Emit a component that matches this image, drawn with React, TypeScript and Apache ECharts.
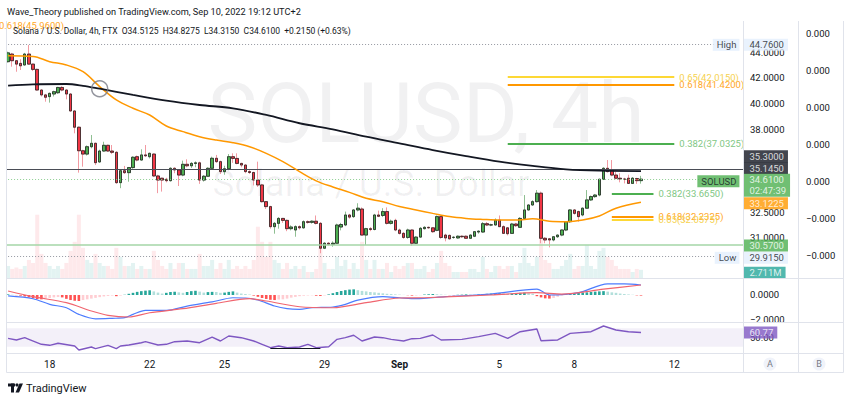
import React, { useEffect, useRef } from 'react';
import * as echarts from 'echarts';

// ---------------- data ----------------
// 4h candles, Aug 16 08:00 .. Sep 10 16:00 : [open, high, low, close]
const ohlc: [number, number, number, number][] = [
  [43.27,44.1,43.2,44.0],[43.9,44.0,42.86,43.35],[43.35,43.4,42.45,43.07],[43.13,43.47,42.59,42.93],[43.0,44.0,42.95,43.9],
  [43.9,44.67,43.0,43.07],[43.07,43.1,42.5,42.64],[42.64,42.7,40.95,41.0],[41.0,41.05,40.5,40.62],[40.62,40.7,40.1,40.44],
  [40.49,40.8,40.03,40.74],[40.69,40.95,40.5,40.87],[40.79,41.25,40.7,41.2],[41.2,41.3,40.9,41.0],[41.0,41.05,40.28,40.69],
  [40.69,40.75,39.35,39.4],[39.4,39.45,37.76,38.2],[38.2,38.25,35.04,36.53],[36.53,36.6,35.44,36.3],[36.3,36.9,36.2,36.81],
  [36.81,37.64,36.7,37.05],[37.05,37.1,35.55,35.71],[35.76,36.6,35.7,36.51],[36.51,37.16,36.45,36.91],[36.91,36.95,36.45,36.51],
  [36.51,36.93,36.3,36.42],[36.42,36.5,34.3,34.38],[34.38,35.25,34.02,35.17],[35.17,35.49,34.95,35.04],[35.04,35.42,34.44,35.38],
  [35.38,36.15,35.3,36.08],[36.12,36.2,35.8,35.89],[35.89,36.63,35.85,36.24],[36.24,36.93,36.1,36.18],[36.12,36.4,36.0,36.35],
  [36.3,36.35,34.75,34.82],[34.82,34.9,33.7,34.55],[34.67,34.7,33.8,34.55],[34.6,34.7,34.4,34.51],[34.51,35.4,34.45,35.33],
  [35.33,35.4,35.0,35.22],[35.22,35.25,34.16,34.88],[34.88,35.85,34.8,35.6],[35.6,35.94,35.4,35.5],[35.5,35.75,35.35,35.66],
  [35.66,35.8,35.4,35.7],[35.7,35.78,34.3,34.55],[34.55,34.88,34.45,34.8],[34.8,35.4,34.75,35.33],[35.33,36.12,35.3,36.01],
  [36.01,36.24,35.7,35.78],[35.78,35.85,34.95,35.11],[35.11,35.5,34.9,35.3],[35.3,36.3,35.2,36.12],[36.12,36.35,35.7,36.0],
  [36.0,36.35,35.6,35.66],[35.66,35.7,35.4,35.55],[35.55,35.6,35.0,35.11],[35.11,35.2,34.95,35.05],[35.05,35.1,34.2,34.55],
  [34.55,35.78,34.1,34.23],[34.23,34.3,33.1,33.16],[33.16,33.2,32.7,32.85],[32.85,32.9,31.5,31.62],[31.62,31.9,31.2,31.82],
  [31.82,32.2,31.5,32.12],[32.12,32.15,31.85,32.0],[32.0,32.05,31.35,31.5],[31.5,31.7,31.4,31.6],[31.42,31.7,31.02,31.62],
  [31.62,31.7,31.45,31.55],[31.55,32.0,31.5,31.92],[31.92,32.0,31.8,31.88],[31.88,32.0,31.8,31.95],[31.95,32.3,31.75,31.82],
  [31.82,31.9,30.06,30.35],[30.35,30.7,30.3,30.64],[30.64,30.7,30.5,30.58],[30.58,30.75,30.44,30.64],[30.64,31.8,30.6,31.72],
  [31.6,31.85,31.4,31.75],[31.72,32.54,31.65,32.33],[32.33,32.4,32.1,32.2],[32.23,32.7,32.15,32.64],[32.64,33.06,32.55,32.75],
  [32.7,32.8,31.1,31.12],[31.12,31.55,30.54,31.5],[31.5,31.6,31.35,31.45],[31.45,32.4,31.4,32.33],[32.33,32.6,32.2,32.25],
  [32.3,32.75,32.2,32.54],[32.54,32.8,31.75,31.82],[31.82,32.05,31.75,31.95],[32.0,32.1,31.35,31.42],[31.42,31.5,31.15,31.22],
  [31.22,31.3,30.9,30.98],[30.98,31.5,30.9,31.42],[31.42,31.45,30.5,30.64],[30.64,31.05,30.6,31.0],[31.0,31.6,30.95,31.52],
  [31.5,31.65,31.45,31.58],[31.58,31.62,31.5,31.55],[31.55,31.6,31.25,31.32],[31.4,32.3,31.35,32.23],[32.23,32.3,30.9,30.98],
  [31.12,31.2,30.75,30.95],[31.1,31.15,30.85,30.9],[30.98,31.05,30.9,30.99],[30.95,31.1,30.9,31.05],[31.05,31.1,30.95,31.02],
  [31.05,31.1,30.9,30.93],[30.93,31.15,30.9,31.12],[31.05,31.35,31.0,31.32],[31.3,31.4,31.2,31.35],[31.3,31.9,31.25,31.8],
  [31.8,31.9,31.65,31.72],[31.72,31.8,31.65,31.73],[31.72,32.12,31.7,32.02],[32.02,32.3,31.6,31.62],[31.62,31.7,31.2,31.22],
  [31.55,31.6,31.1,31.2],[31.22,31.85,31.2,31.78],[31.78,31.85,31.6,31.68],[31.58,32.2,31.55,32.12],[32.12,33.58,32.05,32.64],
  [32.64,33.0,32.6,32.95],[32.95,33.25,32.9,33.16],[33.16,33.9,33.1,33.7],[33.7,33.8,30.64,30.93],[30.93,31.0,30.64,30.83],
  [30.9,30.95,30.4,30.83],[30.83,31.05,30.75,31.02],[31.02,31.15,30.95,31.12],[31.12,31.45,31.05,31.42],[31.42,31.95,31.35,31.92],
  [31.92,32.7,31.85,32.64],[32.64,32.7,32.35,32.43],[32.54,32.6,31.92,32.23],[32.33,32.8,32.25,32.75],[32.75,33.9,32.7,33.27],
  [33.27,33.55,33.2,33.48],[33.48,33.65,33.4,33.58],[33.58,34.65,33.5,34.6],[34.6,35.4,34.55,35.33],[35.33,35.89,35.05,35.11],
  [35.22,35.89,34.8,34.88],[34.88,35.1,34.6,34.67],[34.67,35.0,34.4,34.62],[34.62,34.7,34.33,34.6],[34.67,34.9,34.3,34.33],
  [34.33,34.75,34.3,34.67],[34.65,34.7,34.3,34.51],[34.5125,34.8275,34.315,34.61],
];

// volume in millions
const volumeM: number[] = [
  4,3,3.5,3,4,6,5,21,8,5, 4,3,4,3,5,9,12,21,10,6, 5,8,5,4,4,3,10,7,4,4, 5,3,4,3,3,9,6,4,3,5,
  3,5,5,3,3,3,8,4,4,6, 3,5,3,6,3,4,3,4,3,6, 17,12,7,12,6,5,3,5,3,4, 3,4,2,2,3,10,5,3,3,7,
  4,6,3,5,3,12,6,3,6,3, 3,5,2,4,3,4,5,5,3,3, 4,2,3,5,9,5,4,2,2,2, 2,3,3,2,7,3,2,4,4,3,
  4,4,2,5,10,5,4,7,14,6, 5,3,3,4,6,8,3,4,4,11, 4,3,9,10,7,6,4,3,3,3, 2,3,2.711,
];

// MACD histogram per candle
const macdHist: number[] = [
  0.05,0.02,-0.02,-0.06,-0.12,-0.2,-0.28,-0.34,-0.36,-0.3,
  -0.25,-0.2,-0.17,-0.2,-0.32,-0.42,-0.48,-0.5,-0.42,-0.36,
  -0.3,-0.24,-0.18,-0.12,-0.08,-0.05,-0.1,-0.05,0.02,0.1,
  0.18,0.26,0.32,0.36,0.39,0.3,0.2,0.12,0.18,0.25,
  0.27,0.22,0.18,0.25,0.32,0.35,0.28,0.2,0.24,0.26,
  0.25,0.18,0.2,0.26,0.3,0.2,0.12,0.08,0.04,-0.05,
  -0.15,-0.25,-0.33,-0.4,-0.42,-0.38,-0.36,-0.3,-0.22,-0.16,
  -0.1,-0.06,-0.04,-0.03,-0.06,-0.08,-0.04,0.05,0.15,0.25,
  0.33,0.4,0.45,0.47,0.4,0.34,0.3,0.25,0.22,0.18,
  0.14,0.1,0.08,0.05,0.03,0.01,-0.02,-0.05,-0.04,-0.02,
  0.04,0.06,0.08,0.06,0.04,0.02,-0.02,-0.03,0.02,0.03,
  0.05,0.04,0.03,0.05,0.08,0.1,0.12,0.14,0.15,0.13,
  0.1,0.12,0.15,0.18,0.2,0.15,0.1,-0.1,-0.2,-0.28,
  -0.3,-0.25,-0.15,-0.05,0.05,0.1,0.15,0.18,0.2,0.22,
  0.25,0.28,0.3,0.32,0.28,0.22,0.18,0.12,0.08,0.05,
  0.02,-0.03,-0.05,
];

// moving averages read at points: [candle index, price]
const ma200Pts: [number, number][] = [
  [0,41.35],[6,41.45],[14,41.47],[18,41.33],[22,41.1],[30,40.62],[38,40.18],[46,39.85],[54,39.6],[62,39.1],
  [70,38.49],[78,38.05],[86,37.52],[94,37.05],[102,36.58],[110,36.16],[118,35.78],[126,35.49],[134,35.26],[142,35.17],[152,35.145],
];
const ma50Pts: [number, number][] = [
  [0,43.75],[6,43.7],[10,43.27],[14,43.0],[18,42.45],[22,41.27],[26,40.23],[30,39.6],[34,39.1],[38,38.29],
  [42,37.88],[46,37.52],[50,37.28],[54,37.09],[58,36.81],[62,36.35],[66,35.78],[70,35.11],[74,34.5],[78,34.1],
  [82,33.75],[86,33.37],[90,33.16],[94,32.85],[98,32.64],[102,32.43],[106,32.23],[110,32.12],[114,32.06],[118,32.02],
  [122,32.02],[126,32.1],[130,31.95],[134,31.92],[138,32.02],[142,32.27],[146,32.75],[152,33.1225],
];
const macdPts: [number, number][] = [
  [0,-0.08],[6,-0.31],[10,-0.78],[14,-1.06],[17,-1.61],[21,-1.98],[25,-1.94],[28,-1.89],[30,-1.61],[33,-1.28],
  [38,-1.28],[43,-0.92],[49,-0.58],[54,-0.23],[57,-0.25],[60,-0.42],[64,-0.92],[67,-1.14],[70,-1.19],[73,-1.06],
  [78,-1.0],[81,-0.78],[84,-0.42],[90,-0.14],[94,-0.23],[98,-0.31],[105,-0.14],[116,0.08],[127,0.48],[130,0.0],
  [137,0.19],[144,0.92],[148,0.92],[152,0.83],
];
const signalPts: [number, number][] = [
  [0,0.33],[6,-0.14],[14,-0.64],[20,-1.33],[24,-1.69],[29,-1.83],[34,-1.48],[42,-1.14],[50,-0.69],[58,-0.31],
  [62,-0.5],[70,-0.98],[78,-1.06],[86,-0.64],[94,-0.25],[100,-0.23],[116,0.0],[127,0.19],[133,0.08],[143,0.48],[152,0.83],
];
const rsiPts: [number, number][] = [
  [0,48.2],[2,44.6],[4,49.6],[5,46],[8,35.2],[10,33],[12,37.4],[16,31.5],[17,22.8],[20,29.3],
  [21,25.7],[24,33],[26,25.7],[27,31.5],[29,33.7],[32,38.7],[33,40.9],[36,33.7],[38,35.2],[40,40.9],
  [43,42.4],[46,38.7],[49,51],[51,42.4],[53,53.3],[56,49.6],[59,42.4],[61,35.2],[63,27.8],[65,31.5],
  [67,27.8],[70,29.3],[72,35.2],[74,27.8],[77,30],[79,46],[81,49.6],[83,54.8],[85,42.4],[88,51],
  [90,49.6],[92,46],[95,42.4],[97,47.4],[99,48.2],[102,55.4],[104,44.6],[109,46],[113,51.8],[117,59],
  [120,48.2],[123,62.6],[127,68.5],[128,43],[132,44.6],[135,59],[140,62.6],[143,75],[146,66.3],[149,62.6],[152,60.77],
];
const rsiSupport: [number, number][] = [[63, 26.5], [75, 26.5]];

// axis ticks
const CATEGORY_COUNT = 177;
const categories: string[] = Array.from({ length: CATEGORY_COUNT }, (_, i) => `c${i}`);
const dayTickIndex = [10, 34, 52, 76, 94, 118, 136, 160];
const dayTickLabels = ['18', '22', '25', '29', 'Sep', '5', '8', '12'];
const priceTicks = [31, 32.5, 38, 40, 42, 44];
const scaleBTicks = [-2e-4, -1e-4, 0, 1e-4, 2e-4, 3e-4, 4e-4];
const macdTicks = [-2, 0];
const rsiTicks = [50];

// levels
const HIGH_PRICE = 44.76;
const LOW_PRICE = 29.915;
const RES_LEVEL = 35.3;
const SUP_LEVEL = 30.57;
const LAST_CLOSE = 34.61;
const MA200_LAST = 35.145;
const MA50_LAST = 33.1225;
const VOL_LAST = 2.711;
const RSI_LAST = 60.77;
const COUNTDOWN = '02:47:39';
const crossPoint: [number, number] = [22, 41.1];
const fibUpperLevels = [42.015, 41.42, 37.0325];
const fibUpperNames = ['0.65', '0.618', '0.382'];
const fibLowerLevels = [33.665, 32.2325, 32.0575];
const fibLowerNames = ['0.382', '0.618', '0.65'];

// ---------------- styling ----------------
const FONT = 'Roboto, "Noto Sans", "DejaVu Sans", sans-serif';
const TXT = '#131722';
const GREEN = '#4caf50';
const RED = '#f23645';
const ORANGE = '#ff9800';
const YELLOW = '#fdd835';
const TAG_BLUE = '#e3effd';
const SEP = '#e0e3eb';
const FS = 9.5;
const fibColor: Record<string, string> = { '0.65': YELLOW, '0.618': ORANGE, '0.382': GREEN };
const fibLabelColor: Record<string, string> = { '0.65': '#f6d250', '0.618': '#ffa726', '0.382': '#81c784' };

const fmt4 = (v: number) => v.toFixed(4);

export default function App() {
  const ref = useRef<HTMLDivElement>(null);

  useEffect(() => {
    if (!ref.current) return;
    const chart = echarts.init(ref.current, undefined, { renderer: 'svg' });
    const LAST = CATEGORY_COUNT - 1;

    const tag = (x: number, y: number, text: string, bg: string, fg: string, pos: 'left' | 'right', dy: number) => ({
      value: [x, y],
      label: {
        show: true,
        position: pos,
        distance: pos === 'right' ? 2 : 1,
        offset: [0, dy],
        formatter: text,
        backgroundColor: bg,
        color: fg,
        fontSize: FS,
        lineHeight: 11,
        fontFamily: FONT,
        padding: pos === 'right' ? [1, 4, 0, 6] : [1, 3, 0, 4],
      },
    });

    const histColor = (i: number) => {
      const v = macdHist[i];
      const p = i > 0 ? macdHist[i - 1] : 0;
      if (v >= 0) return v >= p ? '#26a69a' : '#b2dfdb';
      return v <= p ? '#ff5252' : '#ffcdd2';
    };

    const fibLine = (level: number, name: string, from: number, to: number, padBottom: number) => [
      {
        coord: [from, level],
        lineStyle: { color: fibColor[name], width: 2, type: 'solid' },
        label: {
          show: true,
          position: 'end',
          distance: 5,
          formatter: `${name}(${level.toFixed(4)})`,
          color: fibLabelColor[name],
          fontSize: FS,
          fontFamily: FONT,
          padding: [0, 0, padBottom, 0],
        },
      },
      { coord: [to, level] },
    ];

    const dotted = (level: number, to: number, color: string) => [
      { coord: [0, level], lineStyle: { color, width: 1, type: [1, 2] }, label: { show: false } },
      { coord: [to, level] },
    ];

    const xBase = {
      type: 'category',
      data: categories,
      boundaryGap: true,
      axisLine: { show: false },
      axisTick: { show: false },
      splitLine: { show: false },
      axisLabel: { show: false },
    };
    const yLabel = { color: TXT, fontSize: FS, fontFamily: FONT, margin: 7, showMinLabel: true, showMaxLabel: true };

    const option: any = {
      animation: false,
      backgroundColor: '#ffffff',
      grid: [
        { left: 6, top: 22, width: 737, height: 256 },
        { left: 6, top: 279, width: 737, height: 44 },
        { left: 6, top: 323, width: 737, height: 31 },
      ],
      xAxis: [
        { ...xBase, gridIndex: 0 },
        { ...xBase, gridIndex: 1 },
        {
          ...xBase,
          gridIndex: 2,
          axisLabel: {
            show: true,
            interval: (i: number) => dayTickIndex.includes(i),
            formatter: (_v: string, i: number) => {
              const k = dayTickIndex.indexOf(i);
              if (k < 0) return '';
              const t = dayTickLabels[k];
              return t === 'Sep' ? '{b|Sep}' : t;
            },
            color: TXT,
            fontSize: 10,
            fontFamily: FONT,
            margin: 5,
            rich: { b: { fontWeight: 'bold', fontSize: 10, color: TXT, fontFamily: FONT } },
          },
        },
      ],
      yAxis: [
        {
          type: 'log', logBase: 10, gridIndex: 0, position: 'right', min: 28.68, max: 46.66,
          axisLine: { show: false }, axisTick: { show: false }, splitLine: { show: false },
          axisLabel: { ...yLabel, customValues: priceTicks, formatter: (v: number) => fmt4(v) },
        },
        { type: 'value', gridIndex: 0, min: 0, max: 85, show: false },
        {
          type: 'value', gridIndex: 0, position: 'right', offset: 55, min: -2.595e-4, max: 4.324e-4,
          axisLine: { show: false }, axisTick: { show: false }, splitLine: { show: false },
          axisLabel: { ...yLabel, margin: 8, customValues: scaleBTicks, formatter: (v: number) => (v < -1e-9 ? '\u22120.000' : '0.000') },
        },
        {
          type: 'value', gridIndex: 1, position: 'right', min: -2.33, max: 1.33,
          axisLine: { show: false }, axisTick: { show: false }, splitLine: { show: false },
          axisLabel: { ...yLabel, customValues: macdTicks, formatter: (v: number) => (v < 0 ? '\u2212' : '') + Math.abs(v).toFixed(4) },
        },
        {
          type: 'value', gridIndex: 2, position: 'right', min: 14.13, max: 81.52,
          axisLine: { show: false }, axisTick: { show: false }, splitLine: { show: false },
          axisLabel: { ...yLabel, customValues: rsiTicks, formatter: (v: number) => v.toFixed(2) },
        },
      ],
      series: [
        {
          type: 'bar', name: 'Volume', xAxisIndex: 0, yAxisIndex: 1, silent: true, barWidth: 4, z: 1,
          data: volumeM.map((v, i) => ({
            value: v,
            itemStyle: { color: ohlc[i][3] >= ohlc[i][0] ? 'rgba(38,166,154,0.13)' : 'rgba(242,54,69,0.11)' },
          })),
        },
        {
          type: 'candlestick', name: 'wicks', xAxisIndex: 0, yAxisIndex: 0, barWidth: 3, z: 3, silent: true,
          data: ohlc.map(([o, h, l, c]) => [o, c, l, h]),
          itemStyle: { color: GREEN, color0: RED, borderColor: '#8fbf92', borderColor0: '#f29aa2', borderWidth: 1 },
        },
        {
          type: 'candlestick', name: 'bodies', xAxisIndex: 0, yAxisIndex: 0, barWidth: 3, z: 4, silent: true,
          data: ohlc.map(([o, , , c]) => [o, c, Math.min(o, c), Math.max(o, c)]),
          itemStyle: { color: GREEN, color0: RED, borderColor: '#262626', borderColor0: '#262626', borderWidth: 0.8 },
        },
        {
          type: 'line', name: 'MA50', xAxisIndex: 0, yAxisIndex: 0, data: ma50Pts, smooth: 0.35, symbol: 'none', z: 5,
          lineStyle: { color: ORANGE, width: 1.5 },
        },
        {
          type: 'line', name: 'MA200', xAxisIndex: 0, yAxisIndex: 0, data: ma200Pts, smooth: 0.35, symbol: 'none', z: 5,
          lineStyle: { color: TXT, width: 1.8 },
          markLine: {
            silent: true,
            symbol: ['none', 'none'],
            animation: false,
            data: [
              { yAxis: RES_LEVEL, lineStyle: { color: '#4a4d56', width: 1, type: 'solid' }, label: { show: false } },
              { yAxis: SUP_LEVEL, lineStyle: { color: '#a5d6a7', width: 1.5, type: 'solid' }, label: { show: false } },
              dotted(HIGH_PRICE, 170, '#9598a1'),
              dotted(LOW_PRICE, 170, '#9598a1'),
              dotted(LAST_CLOSE, 166, '#8fd093'),
              fibLine(fibUpperLevels[0], fibUpperNames[0], 120, 160, 14),
              fibLine(fibUpperLevels[1], fibUpperNames[1], 120, 160, 13),
              fibLine(fibUpperLevels[2], fibUpperNames[2], 120, 160, 13),
              fibLine(fibLowerLevels[0], fibLowerNames[0], 145, 155, 12),
              fibLine(fibLowerLevels[1], fibLowerNames[1], 145, 155, 5),
              fibLine(fibLowerLevels[2], fibLowerNames[2], 145, 155, 0),
            ],
          },
        },
        {
          type: 'scatter', name: 'cross', xAxisIndex: 0, yAxisIndex: 0, data: [crossPoint], symbol: 'circle', symbolSize: 16, z: 6,
          itemStyle: { color: 'rgba(255,255,255,0)', borderColor: '#787b86', borderWidth: 1.5 }, silent: true,
        },
        {
          type: 'scatter', name: 'priceTags', xAxisIndex: 0, yAxisIndex: 0, symbolSize: 1, z: 20, silent: true,
          itemStyle: { color: 'rgba(0,0,0,0)' },
          data: [
            tag(LAST, HIGH_PRICE, 'High', TAG_BLUE, TXT, 'left', 1),
            tag(LAST, HIGH_PRICE, fmt4(HIGH_PRICE), TAG_BLUE, TXT, 'right', 1),
            tag(LAST, LOW_PRICE, 'Low', TAG_BLUE, TXT, 'left', 2),
            tag(LAST, LOW_PRICE, fmt4(LOW_PRICE), TAG_BLUE, TXT, 'right', 2),
            tag(LAST, SUP_LEVEL, fmt4(SUP_LEVEL), GREEN, '#ffffff', 'right', 1),
            tag(LAST, MA50_LAST, fmt4(MA50_LAST), ORANGE, '#ffffff', 'right', 1),
            tag(LAST, RES_LEVEL, fmt4(RES_LEVEL), TXT, '#ffffff', 'right', -12.5),
            tag(LAST, MA200_LAST, fmt4(MA200_LAST), TXT, '#ffffff', 'right', -3),
            tag(LAST, LAST_CLOSE, 'SOLUSD', GREEN, TXT, 'left', 2),
            tag(LAST, LAST_CLOSE, `${fmt4(LAST_CLOSE)}\n${COUNTDOWN}`, GREEN, '#ffffff', 'right', 6),
          ],
        },
        {
          type: 'scatter', name: 'volTag', xAxisIndex: 0, yAxisIndex: 1, symbolSize: 1, z: 20, silent: true,
          itemStyle: { color: 'rgba(0,0,0,0)' },
          data: [tag(LAST, VOL_LAST, `${VOL_LAST.toFixed(3)}M`, '#26a69a', '#ffffff', 'right', 3)],
        },
        {
          type: 'bar', name: 'Histogram', xAxisIndex: 1, yAxisIndex: 3, barWidth: 2.6, silent: true,
          data: macdHist.map((v, i) => ({ value: v, itemStyle: { color: histColor(i) } })),
        },
        {
          type: 'line', name: 'MACD', xAxisIndex: 1, yAxisIndex: 3, data: macdPts, smooth: 0.3, symbol: 'none',
          lineStyle: { color: '#4d7cfe', width: 1.2 },
        },
        {
          type: 'line', name: 'Signal', xAxisIndex: 1, yAxisIndex: 3, data: signalPts, smooth: 0.3, symbol: 'none',
          lineStyle: { color: '#f0656f', width: 1.2 },
        },
        {
          type: 'line', name: 'RSI', xAxisIndex: 2, yAxisIndex: 4, data: rsiPts, symbol: 'none',
          lineStyle: { color: '#7e57c2', width: 1.4 },
          markArea: {
            silent: true,
            itemStyle: { color: 'rgba(126,87,194,0.09)' },
            data: [[{ yAxis: 30 }, { yAxis: 70 }]],
          },
          markLine: {
            silent: true,
            symbol: ['none', 'none'],
            data: [[
              { coord: rsiSupport[0], lineStyle: { color: TXT, width: 1.2, type: 'solid' }, label: { show: false } },
              { coord: rsiSupport[1] },
            ]],
          },
        },
        {
          type: 'scatter', name: 'rsiTag', xAxisIndex: 2, yAxisIndex: 4, symbolSize: 1, z: 20, silent: true,
          itemStyle: { color: 'rgba(0,0,0,0)' },
          data: [tag(LAST, RSI_LAST, RSI_LAST.toFixed(2), '#7e57c2', '#ffffff', 'right', 0)],
        },
      ],
      graphic: {
        elements: [
          { type: 'text', x: 426, y: 113, z: -10, silent: true,
            style: { text: 'SOLUSD, 4h', fontSize: 84, fontFamily: FONT, fill: 'rgba(19,23,34,0.06)', align: 'center', verticalAlign: 'middle' } },
          { type: 'text', x: 371, y: 183, z: -10, silent: true,
            style: { text: 'Solana / U.S. Dollar', fontSize: 37, fontFamily: FONT, fill: 'rgba(19,23,34,0.06)', align: 'center', verticalAlign: 'middle' } },
          { type: 'text', x: 7, y: 11, z: 50, silent: true,
            style: { text: 'Wave_Theory published on TradingView.com, Sep 10, 2022 19:12 UTC+2', fontSize: 9.2, fontFamily: FONT, fill: TXT, verticalAlign: 'middle' } },
          { type: 'text', x: -1, y: 25, z: 50, silent: true,
            style: { text: '0.618(45.9600)', fontSize: 9.5, fontFamily: FONT, fill: '#ffa726', verticalAlign: 'middle' } },
          { type: 'text', x: 13, y: 30.5, z: 51, silent: true,
            style: { text: 'Solana / U.S. Dollar, 4h, FTX  O34.5125  H34.8275  L34.3150  C34.6100  +0.2150 (+0.63%)', fontSize: 8.5, fontFamily: FONT, fill: TXT, verticalAlign: 'middle' } },
          // pane frame
          { type: 'line', z: 60, silent: true, shape: { x1: 6.5, y1: 278.5, x2: 843.5, y2: 278.5 }, style: { stroke: SEP, lineWidth: 1 } },
          { type: 'line', z: 60, silent: true, shape: { x1: 6.5, y1: 322.5, x2: 843.5, y2: 322.5 }, style: { stroke: SEP, lineWidth: 1 } },
          { type: 'line', z: 60, silent: true, shape: { x1: 6.5, y1: 353.5, x2: 843.5, y2: 353.5 }, style: { stroke: SEP, lineWidth: 1 } },
          { type: 'line', z: 60, silent: true, shape: { x1: 6.5, y1: 372.5, x2: 843.5, y2: 372.5 }, style: { stroke: SEP, lineWidth: 1 } },
          { type: 'line', z: 60, silent: true, shape: { x1: 6.5, y1: 21, x2: 6.5, y2: 372.5 }, style: { stroke: SEP, lineWidth: 1 } },
          { type: 'line', z: 60, silent: true, shape: { x1: 743.5, y1: 21, x2: 743.5, y2: 372.5 }, style: { stroke: SEP, lineWidth: 1 } },
          { type: 'line', z: 60, silent: true, shape: { x1: 798.5, y1: 21, x2: 798.5, y2: 372.5 }, style: { stroke: SEP, lineWidth: 1 } },
          { type: 'line', z: 60, silent: true, shape: { x1: 843.5, y1: 21, x2: 843.5, y2: 372.5 }, style: { stroke: SEP, lineWidth: 1 } },
          // A / B buttons
          { type: 'circle', z: 61, silent: true, shape: { cx: 770, cy: 364, r: 6.5 }, style: { fill: '#f0f3fa' } },
          { type: 'text', z: 62, silent: true, x: 770, y: 364, style: { text: 'A', fontSize: 9, fontFamily: FONT, fill: '#787b86', align: 'center', verticalAlign: 'middle' } },
          { type: 'circle', z: 61, silent: true, shape: { cx: 819, cy: 364, r: 6.5 }, style: { fill: '#f0f3fa' } },
          { type: 'text', z: 62, silent: true, x: 819, y: 364, style: { text: 'B', fontSize: 9, fontFamily: FONT, fill: '#787b86', align: 'center', verticalAlign: 'middle' } },
          // TradingView logo
          { type: 'rect', z: 61, silent: true, shape: { x: 8, y: 383.5, width: 7, height: 3 }, style: { fill: TXT } },
          { type: 'rect', z: 61, silent: true, shape: { x: 11, y: 383.5, width: 3, height: 9 }, style: { fill: TXT } },
          { type: 'circle', z: 61, silent: true, shape: { cx: 17, cy: 385, r: 1.6 }, style: { fill: TXT } },
          { type: 'polygon', z: 61, silent: true, shape: { points: [[19.5, 383.5], [23, 383.5], [19, 392.5], [15.5, 392.5]] }, style: { fill: TXT } },
          { type: 'text', z: 61, silent: true, x: 26, y: 388, style: { text: 'TradingView', fontSize: 11, fontFamily: FONT, fill: TXT, verticalAlign: 'middle' } },
        ],
      },
    };

    chart.setOption(option);
    return () => chart.dispose();
  }, []);

  return (
    <div
      ref={ref}
      style={{ position: 'absolute', left: 0, top: 0, width: 850, height: 399, background: '#ffffff' }}
    />
  );
}
